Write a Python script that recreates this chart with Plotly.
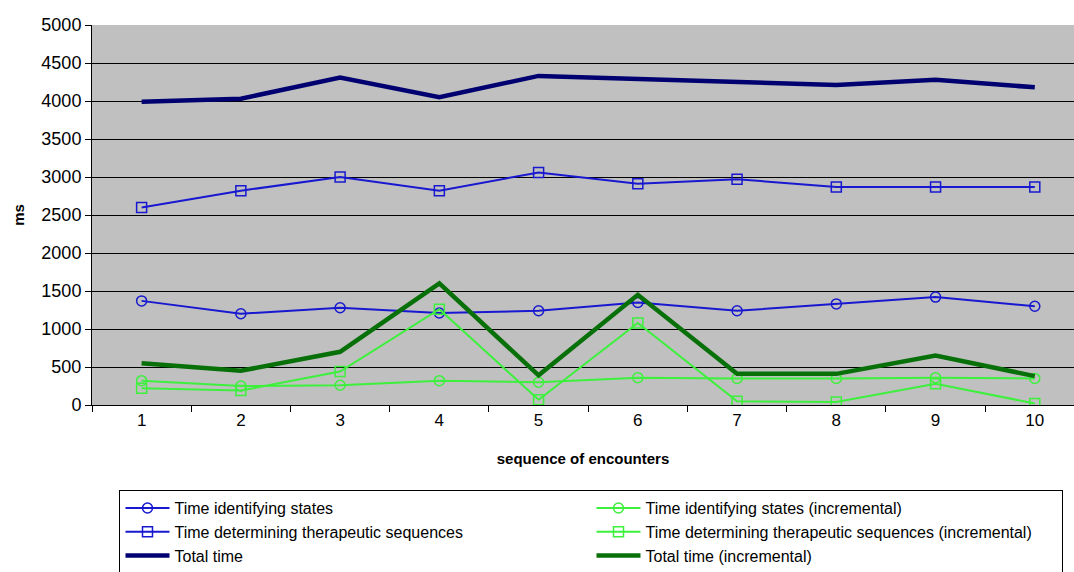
import plotly.graph_objects as go

# Encounter sequence (category axis)
encounters = ["1", "2", "3", "4", "5", "6", "7", "8", "9", "10"]

# Timings in ms
ident_states = [1370, 1200, 1280, 1210, 1240, 1350, 1240, 1330, 1420, 1300]
det_sequences = [2600, 2820, 3000, 2820, 3060, 2910, 2970, 2870, 2870, 2870]
total_time = [3990, 4030, 4310, 4050, 4330, 4290, 4240, 4210, 4280, 4180]

ident_states_inc = [320, 250, 260, 320, 300, 360, 350, 350, 360, 350]
det_sequences_inc = [220, 190, 440, 1260, 70, 1080, 50, 40, 280, 20]
total_time_inc = [550, 450, 700, 1600, 390, 1450, 410, 410, 650, 380]

y_ticks = list(range(0, 5001, 500))

BLUE = "#1818d0"
NAVY = "#000070"
LIGHT_GREEN = "#3cf03c"
DARK_GREEN = "#087008"

fig = go.Figure()

# Trace order gives the two-column legend layout
series = [
    ("Time identifying states", ident_states, BLUE, 2, "circle-open"),
    ("Time identifying states (incremental)", ident_states_inc, LIGHT_GREEN, 2, "circle-open"),
    ("Time determining therapeutic sequences", det_sequences, BLUE, 2, "square-open"),
    ("Time determining therapeutic sequences (incremental)", det_sequences_inc, LIGHT_GREEN, 2, "square-open"),
    ("Total time", total_time, NAVY, 4.5, None),
    ("Total time (incremental)", total_time_inc, DARK_GREEN, 4.5, None),
]

for name, vals, color, width, symbol in series:
    kwargs = dict(mode="lines")
    if symbol:
        kwargs = dict(mode="lines+markers",
                      marker=dict(symbol=symbol, size=10, color=color,
                                  line=dict(width=1.5, color=color)))
    fig.add_trace(go.Scatter(x=encounters, y=vals, name=name,
                             line=dict(color=color, width=width), **kwargs))

fig.update_layout(
    width=1074,
    height=572,
    margin=dict(l=92, r=0, t=25, b=167, autoexpand=False),
    paper_bgcolor="white",
    plot_bgcolor="#c0c0c0",
    font=dict(family="Liberation Sans, Arial, sans-serif", color="black", size=16),
    showlegend=True,
    legend=dict(
        orientation="h",
        x=0.028, xanchor="left",
        y=-0.224, yanchor="top",
        bgcolor="white",
        bordercolor="black",
        borderwidth=1,
        entrywidth=412,
        entrywidthmode="pixels",
        font=dict(size=16),
        itemwidth=44,
        tracegroupgap=0,
    ),
    xaxis=dict(
        type="category",
        range=[-0.5, 9.395],
        tickson="boundaries",
        ticks="outside",
        ticklen=6,
        tickcolor="black",
        showgrid=False,
        showline=True,
        linecolor="black",
        linewidth=1,
        tickfont=dict(size=17),
        title=dict(text="<b>sequence of encounters</b>", font=dict(size=15), standoff=24),
    ),
    yaxis=dict(
        range=[0, 5000],
        tickvals=y_ticks,
        ticks="outside",
        ticklen=6,
        tickcolor="black",
        showgrid=True,
        gridcolor="black",
        gridwidth=1,
        zeroline=False,
        showline=True,
        linecolor="black",
        linewidth=1,
        tickfont=dict(size=18),
        title=dict(text="<b>ms</b>", font=dict(size=15), standoff=13),
    ),
)

fig.write_html("out.html")
